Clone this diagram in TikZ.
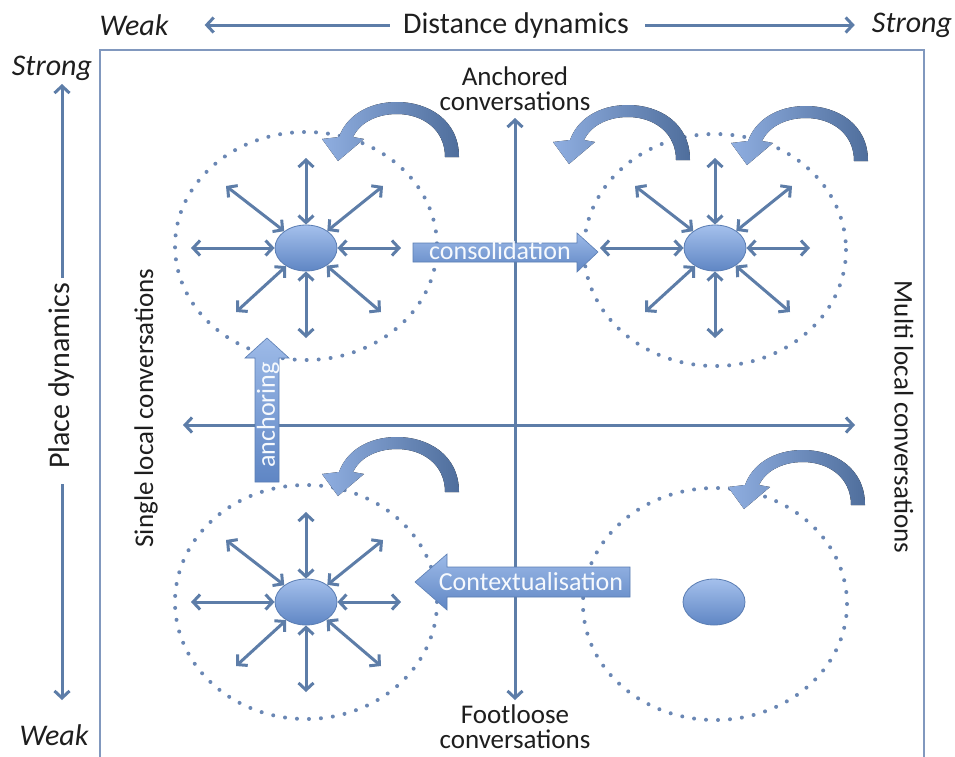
\documentclass[tikz,border=0pt]{standalone}
\usepackage{fontspec}
\setmainfont{Carlito}
\usetikzlibrary{arrows.meta,shapes.geometric}
\definecolor{lineblue}{HTML}{5D7DA8}
\definecolor{frameblue}{HTML}{8198BE}
\definecolor{dotblue}{HTML}{6A87B4}
\definecolor{hubtop}{HTML}{A4C0EC}
\definecolor{hubbot}{HTML}{5F86C4}
\definecolor{hubline}{HTML}{5A7DB3}
\definecolor{turnlight}{HTML}{8FAEE0}
\definecolor{turndark}{HTML}{4F6E9C}
\definecolor{inktext}{HTML}{1E1E1E}

\newcommand{\turnarrow}[1]{
  \fill[turnfill,shift={#1}] (7,0) .. controls (7,-38) and (-25,-55) .. (-55,-55)
    .. controls (-85,-55) and (-106,-40) .. (-113,-20) -- (-130,-18) -- (-114,4)
    -- (-88,-18) -- (-99,-20) .. controls (-93,-33) and (-77,-43) .. (-55,-43)
    .. controls (-30,-43) and (-7,-28) .. (-7,0) -- cycle;
}

\begin{document}
\begin{tikzpicture}[x=1pt,y=-1pt,
  label/.style={inktext,inner sep=2pt,font=\fontsize{30}{32}\selectfont},
  wlabel/.style={label,font=\fontsize{30}{32}\selectfont\itshape},
  qlabel/.style={inktext,inner sep=1pt,align=center,font=\fontsize{27}{25}\selectfont},
  slabel/.style={inktext,inner sep=2pt,font=\fontsize{27}{29}\selectfont},
  axis/.style={lineblue,line width=3pt,-{Straight Barb[length=7pt,width=15pt]}},
  axisboth/.style={lineblue,line width=3pt,{Straight Barb[length=7pt,width=15pt]}-{Straight Barb[length=7pt,width=15pt]}},
  spoke/.style={lineblue,line width=3pt,{Straight Barb[length=7pt,width=15pt]}-{Straight Barb[length=7pt,width=15pt]}},
  dotring/.style={dotblue,line width=4pt,line cap=round,dash pattern=on 0pt off 12pt},
  hub/.style={ellipse,inner sep=0pt,minimum width=62pt,minimum height=46pt,draw=hubline,line width=0.8pt,top color=hubtop,bottom color=hubbot},
  blockfill/.style={draw=hubline,line width=0.6pt,top color=hubtop!90!hubbot,bottom color=hubbot},
  blocktext/.style={white!90!hubtop,inner sep=0pt,font=\fontsize{26}{28}\selectfont},
  turnfill/.style={left color=turnlight,right color=turndark}]
\useasboundingbox (0,0) rectangle (955,756);
\fill[white] (0,0) rectangle (955,756);

\draw[frameblue,line width=2pt] (100,766) -- (100,50) -- (924,50) -- (924,766);

\node[label] (distance) at (516,25) {Distance dynamics};
\node[wlabel] (weakTop) at (134,25) {Weak};
\node[wlabel] (strongTop) at (912,25) {Strong};
\draw[axis,shorten <=11pt,shorten >=34pt] (distance.west) -- (weakTop.east);
\draw[axis,shorten <=14pt,shorten >=15pt] (distance.east) -- (strongTop.west);

\node[wlabel] (strongLeft) at (52,68) {Strong};
\node[wlabel] (weakLeft) at (54,735) {Weak};
\node[label,rotate=90] (place) at (62,376) {Place dynamics};
\coordinate (pTop) at (62,84);
\coordinate (pBot) at (62,700);
\draw[axis,shorten <=3pt] (place.east) -- (pTop);
\draw[axis,shorten <=13pt] (place.west) -- (pBot);

\node[qlabel] (anchored) at (515,89) {Anchored\\conversations};
\node[qlabel] (footloose) at (515,727) {Footloose\\conversations};
\node[slabel,rotate=90] (single) at (146,408) {Single local conversations};
\node[slabel,rotate=-90] (multi) at (904,417) {Multi local conversations};

\coordinate (vUp) at (515,118);
\coordinate (vDown) at (515,700);
\coordinate (hLeft) at (183,425);
\coordinate (hRight) at (855,425);
\draw[axisboth] (vDown) -- (vUp);
\draw[axisboth] (hLeft) -- (hRight);

\draw[dotring] (306,246) ellipse [x radius=131, y radius=114];
\draw[dotring] (715,250) ellipse [x radius=131, y radius=116];
\draw[dotring] (306,602) ellipse [x radius=131, y radius=117];
\draw[dotring] (715,604) ellipse [x radius=132, y radius=116];

\node[hub] (tlHub) at (306,248) {};
\node[hub] (trHub) at (715,248) {};
\node[hub] (blHub) at (306,602) {};
\node[hub] (brHub) at (714,602) {};

\foreach \h in {tlHub,trHub,blHub}
  \foreach \dx/\dy in {95/0,-115/0,0/-90,0/90,77/-62,-80/-62,-70/64,75/64}
    \draw[spoke] (\h) -- +(\dx,\dy);

\turnarrow{(452,157)}
\turnarrow{(683,160)}
\turnarrow{(861,161)}
\turnarrow{(452,492)}
\turnarrow{(858,505)}

\draw[blockfill] (413,243) -- (577,243) -- (577,233) -- (598,252) -- (577,272)
  -- (577,262) -- (413,262) -- cycle;
\node[blocktext] (consol) at (500,251) {consolidation};

\draw[blockfill] (255,482) -- (255,358) -- (245,358) -- (267,338) -- (289,358)
  -- (279,358) -- (279,482) -- cycle;
\node[blocktext,rotate=90] (anchoring) at (268,415) {anchoring};

\draw[blockfill] (630,567) -- (447,567) -- (447,554) -- (415,582) -- (447,610)
  -- (447,597) -- (630,597) -- cycle;
\node[blocktext] (context) at (531,582) {Contextualisation};
\end{tikzpicture}
\end{document}
